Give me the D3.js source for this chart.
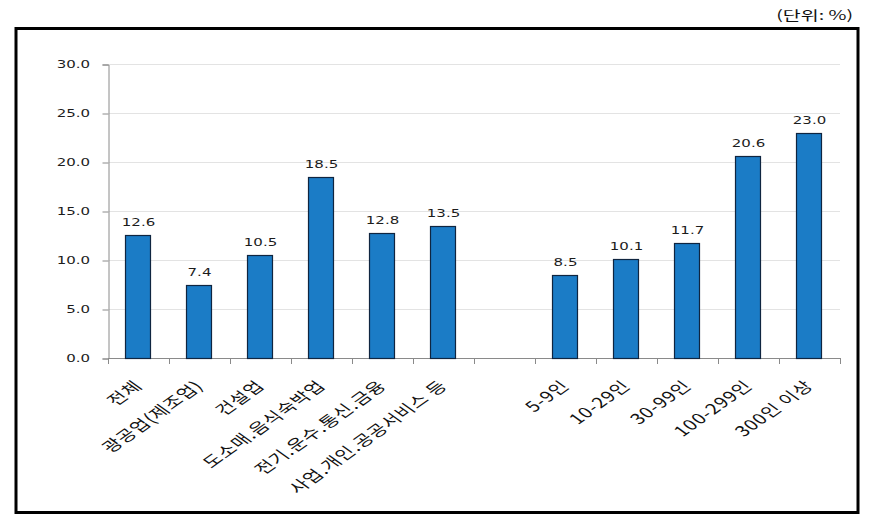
<!DOCTYPE html>
<html><head><meta charset="utf-8">
<script src="https://cdn.jsdelivr.net/npm/d3@7"></script>
<style>
body{margin:0;background:#fff;}
svg{display:block;}
</style></head>
<body><svg id="c" width="872" height="525"></svg>
<script>
const categories = ["전체","광공업(제조업)","건설업","도소매.음식숙박업","전기.운수.통신.금융","사업.개인.공공서비스 등","","5-9인","10-29인","30-99인","100-299인","300인 이상"];
const values = [12.6,7.4,10.5,18.5,12.8,13.5,null,8.5,10.1,11.7,20.6,23.0];
const yTicks = [0,5,10,15,20,25,30];
const unitLabel = "(단위: %)";

const svg = d3.select("#c");
const numFont = "'DejaVu Sans', Verdana, sans-serif";
const korFont = "'Noto Sans CJK KR', sans-serif";

function stext(g, x, y, txt, opts) {
  const sx = opts.sx || 1.5;
  return g.append("g").attr("transform", `translate(${x},${y}) scale(${sx},1)` + (opts.rot ? ` rotate(${opts.rot})` : ""))
    .append("text").attr("x",0).attr("y",0)
    .attr("text-anchor", opts.anchor || "start")
    .attr("font-family", opts.font).attr("font-size", opts.size)
    .attr("letter-spacing", opts.ls || 0)
    .attr("fill", opts.fill || "#1c1c1c").text(txt);
}

// frame
svg.append("rect").attr("x",16).attr("y",28.5).attr("width",842).attr("height",484)
  .attr("fill","none").attr("stroke","#000").attr("stroke-width",3);

stext(svg, 853, 20, unitLabel, {anchor:"end", font:korFont, size:13, fill:"#111"});

const x = d3.scaleBand().domain(d3.range(categories.length)).range([108,840])
  .paddingInner(0.57).paddingOuter(0.285);
const y = d3.scaleLinear().domain([0,30]).range([358,64]);

// grid
svg.append("g").selectAll("line").data(yTicks.filter(d=>d>0)).join("line")
  .attr("x1",109).attr("x2",840).attr("y1",d=>Math.round(y(d))+0.5).attr("y2",d=>Math.round(y(d))+0.5)
  .attr("stroke","#e3e3e3").attr("stroke-width",1);

// y axis
const ya = svg.append("g").attr("transform","translate(108.5,0.5)")
  .call(d3.axisLeft(y).tickValues(yTicks).tickFormat("").tickSize(6));
ya.select(".domain").attr("stroke","#8a8a8a");
ya.selectAll(".tick line").attr("stroke","#8a8a8a");
const yl = svg.append("g");
yTicks.forEach(v => stext(yl, 90, y(v)+3.6, d3.format(".1f")(v), {anchor:"end", font:numFont, size:10}));

// x axis
const gap = (x.step()-x.bandwidth())/2;
const bounds = categories.map((c,i)=>x(i)-gap).concat([x(categories.length-1)+x.bandwidth()+gap]);
svg.append("line").attr("x1",108).attr("x2",840).attr("y1",358.5).attr("y2",358.5).attr("stroke","#8a8a8a");
svg.append("g").selectAll("line").data(bounds).join("line")
  .attr("x1",d=>Math.round(d)+0.5).attr("x2",d=>Math.round(d)+0.5).attr("y1",358).attr("y2",364)
  .attr("stroke","#8a8a8a");

// bars
const data = categories.map((c,i)=>({c,i,v:values[i]})).filter(d=>d.v!=null);
svg.append("g").selectAll("rect").data(data).join("rect")
  .attr("x",d=>Math.round(x(d.i))+0.5).attr("y",d=>Math.round(y(d.v))+0.5)
  .attr("width",Math.round(x.bandwidth())-1).attr("height",d=>358-Math.round(y(d.v)))
  .attr("fill","#1b7cc6").attr("stroke","#0f2540").attr("stroke-width",1.2);

const vl = svg.append("g");
data.forEach(d => stext(vl, x(d.i)+x.bandwidth()/2, y(d.v)-9, d.v.toFixed(1), {anchor:"middle", font:numFont, size:10}));

// category labels
const cl = svg.append("g");
data.forEach(d => stext(cl, x(d.i)+x.bandwidth()/2+5, 387, d.c, {anchor:"end", font:korFont, size:14.5, ls:0.6, rot:-45, sx:1.4, fill:"#111"}));
</script></body></html>
